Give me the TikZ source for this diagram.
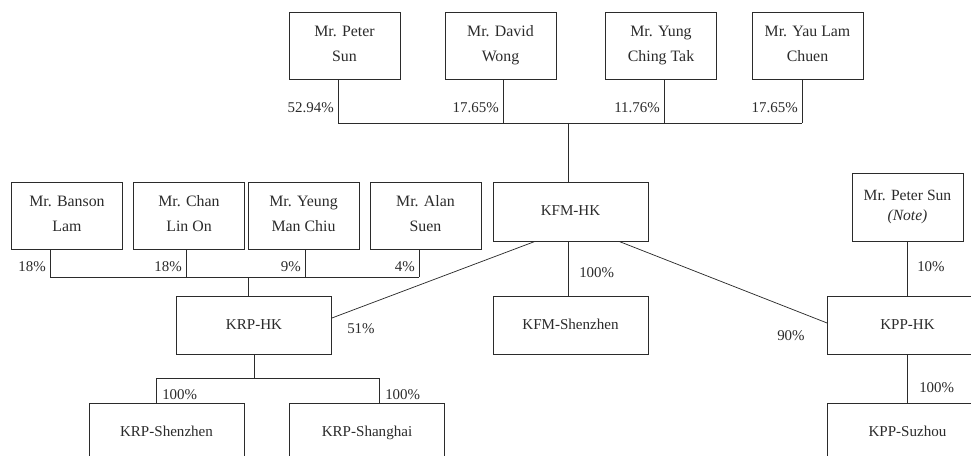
\documentclass[tikz,border=0pt]{standalone}
\usepackage{fontspec}
\setmainfont{Liberation Serif}
\usetikzlibrary{positioning}
\definecolor{Ink}{HTML}{2B2B2B}
\tikzset{
    holder/.style={rectangle, draw=Ink, line width=0.6pt, align=center, inner sep=2pt, text=Ink, font=\fontsize{11.9}{18.8}\selectfont, execute at begin node=\vphantom{d}, execute at end node=\vphantom{g}, minimum width=83.25pt, minimum height=50.25pt},
    company/.style={rectangle, draw=Ink, line width=0.6pt, align=center, inner sep=2pt, text=Ink, font=\fontsize{11.3}{14}\selectfont, text height=8.5pt, text depth=2.5pt, minimum width=116.25pt, minimum height=43.5pt},
    link/.style={draw=Ink, line width=0.55pt},
    pct/.style={inner sep=0pt, text=Ink, font=\fontsize{11.2}{13}\selectfont},
}

\begin{document}
\begin{tikzpicture}[x=0.75pt, y=-0.75pt]
    \path[use as bounding box, clip] (0,0) rectangle (971,456);

    % shareholders of KFM-HK
    \node[holder] (psun) at (344.5,45.5) {Mr. Peter\\Sun};
    \node[holder] (dwong) at (500.5,45.5) {Mr. David\\Wong};
    \node[holder] (yung) at (661,45.5) {Mr. Yung\\Ching Tak};
    \node[holder] (yau) at (807.5,45.5) {Mr. Yau Lam\\Chuen};

    % shareholders of KRP-HK
    \node[holder] (banson) at (67,215.5) {Mr. Banson\\Lam};
    \node[holder] (chan) at (189,215.5) {Mr. Chan\\Lin On};
    \node[holder] (yeung) at (303.5,215.5) {Mr. Yeung\\Man Chiu};
    \node[holder] (alan) at (425.5,215.5) {Mr. Alan\\Suen};
    \node[holder, font=\fontsize{11.7}{15}\selectfont, minimum height=51pt] (psunnote) at (907.5,207) {Mr. Peter Sun\\\textit{(Note)}};

    % companies
    \node[company, minimum height=44.25pt] (kfmhk) at (570.5,211.5) {KFM-HK};
    \node[company] (krphk) at (254,325) {KRP-HK};
    \node[company] (kfmsz) at (570.5,325) {KFM-Shenzhen};
    \node[company, minimum width=120pt] (kpphk) at (907.5,325) {KPP-HK};
    \node[company] (krpsz) at (166.5,432) {KRP-Shenzhen};
    \node[company] (krpsh) at (367,432) {KRP-Shanghai};
    \node[company, minimum width=120pt] (kppsz) at (907.5,432) {KPP-Suzhou};

    % KFM-HK holdings
    \foreach \who/\px/\share in {psun/338/52.94, dwong/503/17.65, yung/664/11.76, yau/802/17.65}{
        \coordinate (t-\who) at (\px,123);
        \draw[link] (\who.south -| t-\who) -- (t-\who);
        \node[pct, anchor=base east] (p-\who) at (\px-4,113) {\share\%};
    }
    \coordinate (kfmtap) at (568,123);
    \draw[link] (t-psun) -- (t-yau);
    \draw[link] (kfmtap) -- (kfmhk.north -| kfmtap);

    % KRP-HK holdings
    \foreach \who/\px/\share in {banson/50/18, chan/186/18, yeung/305/9, alan/419/4}{
        \coordinate (t-\who) at (\px,277);
        \draw[link] (\who.south -| t-\who) -- (t-\who);
        \node[pct, anchor=base east] (p-\who) at (\px-4,272) {\share\%};
    }
    \coordinate (krptap) at (248,277);
    \draw[link] (t-banson) -- (t-alan);
    \draw[link] (krptap) -- (krphk.north -| krptap);

    % subsidiaries
    \draw[link] (kfmhk.south -| kfmtap) -- (kfmsz.north -| kfmtap);
    \node[pct, anchor=base west] (l-kfmsz) at (579,277) {100\%};
    \draw[link] ([xshift=-26.6pt]kfmhk.south) -- ([yshift=5.25pt]krphk.east);
    \node[pct, anchor=base west] (l-krphk) at (347,333) {51\%};
    \draw[link] ([xshift=36.4pt]kfmhk.south) -- ([yshift=1.5pt]kpphk.west);
    \node[pct, anchor=base west] (l-kpphk) at (777,340) {90\%};
    \draw[link] (psunnote.south) -- (kpphk.north -| psunnote.south);
    \node[pct, anchor=base west] (l-note) at (917,272) {10\%};
    \draw[link] (kpphk.south) -- (kppsz.north);
    \node[pct, anchor=base west] (l-kppsz) at (919,392) {100\%};

    \coordinate (krpbus) at (254,378);
    \coordinate (krpl) at (156,378);
    \coordinate (krpr) at (379,378);
    \draw[link] (krphk.south) -- (krpbus);
    \draw[link] (krpsz.north -| krpl) -- (krpl) -- (krpr) -- (krpsh.north -| krpr);
    \node[pct, anchor=base west] (l-krpsz) at (162,399) {100\%};
    \node[pct, anchor=base west] (l-krpsh) at (385,399) {100\%};
\end{tikzpicture}
\end{document}
